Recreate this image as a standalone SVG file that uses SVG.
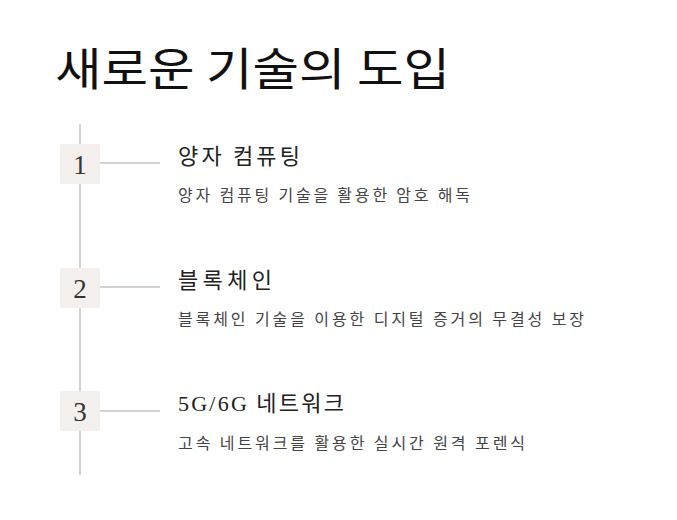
<svg xmlns="http://www.w3.org/2000/svg" width="677" height="520" viewBox="0 0 677 520">
<style>
.k{font-family:"Noto Sans CJK KR","Noto Sans",sans-serif}
.t{font-size:22px;fill:#222}
.s{font-size:16px;fill:#444}
.n{font-family:"Liberation Serif",serif;font-size:27px;fill:#333;text-anchor:middle}
.b{fill:#f2efed}
.l{stroke:#d6d1cf;stroke-width:2}
</style>
<rect width="677" height="520" fill="#fff"/>
<text x="55" y="86" class="k" font-size="45" fill="#111" textLength="395" lengthAdjust="spacingAndGlyphs">새로운 기술의 도입</text>
<g id="connectors">
<line class="l" x1="80" y1="124" x2="80" y2="475"/>
<line class="l" x1="100" y1="163" x2="160" y2="163"/>
<line class="l" x1="100" y1="287" x2="160" y2="287"/>
<line class="l" x1="100" y1="411" x2="160" y2="411"/>
</g>
<g id="n1"><rect class="b" x="60" y="144" width="40" height="40" rx="2"/><text class="n" x="80" y="174">1</text>
<text class="k t" x="178" y="164" textLength="122">양자 컴퓨팅</text><text class="k s" x="178" y="201" textLength="292">양자 컴퓨팅 기술을 활용한 암호 해독</text></g>
<g id="n2"><rect class="b" x="60" y="268" width="40" height="40" rx="2"/><text class="n" x="80" y="298">2</text>
<text class="k t" x="178" y="288" textLength="94">블록체인</text><text class="k s" x="178" y="325" textLength="406">블록체인 기술을 이용한 디지털 증거의 무결성 보장</text></g>
<g id="n3"><rect class="b" x="60" y="391" width="40" height="40" rx="2"/><text class="n" x="80" y="421">3</text>
<text class="k t" x="178" y="411" textLength="166"><tspan font-family="Liberation Serif">5G/6G</tspan> 네트워크</text><text class="k s" x="178" y="449" textLength="347">고속 네트워크를 활용한 실시간 원격 포렌식</text></g>
</svg>
